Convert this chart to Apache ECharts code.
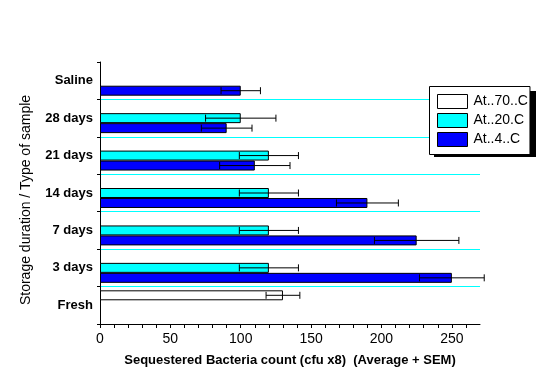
<!DOCTYPE html>
<html>
<head>
<meta charset="utf-8">
<script src="https://cdn.jsdelivr.net/npm/echarts@6/dist/echarts.min.js"></script>
<style>
  html, body { margin: 0; padding: 0; background: #fff; }
  #chart { width: 542px; height: 377px; }
</style>
</head>
<body>
<div id="chart"></div>
<script>
// categories from bottom to top
var categories = ["Fresh", "3 days", "7 days", "14 days", "21 days", "28 days", "Saline"];
var seriesNames = ["At..70..C", "At..20.C", "At..4..C"];

// averages
var at70 = [130, null, null, null, null, null, null];
var at20 = [null, 120, 120, 120, 120, 100, null];
var at4 = [null, 250, 225, 190, 110, 90, 100];

// SEM
var sem70 = [12, null, null, null, null, null, null];
var sem20 = [null, 21, 21, 21, 21, 25, null];
var sem4 = [null, 23, 30, 22, 25, 18, 14];

var colors = ["#FFFFFF", "#00FFFF", "#0000FF"];
var font = "Liberation Sans, Arial, sans-serif";

var chart = echarts.init(document.getElementById("chart"));

// slot 0 = top bar in the group
function errorSeries(values, sems, slot) {
  var data = [];
  values.forEach(function (v, i) {
    if (v != null) data.push([v, i, sems[i]]);
  });
  return {
    type: "custom",
    name: "err" + slot,
    silent: true,
    z: 5,
    encode: { x: 0, y: 1 },
    data: data,
    renderItem: function (params, api) {
      var v = api.value(0), c = api.value(1), e = api.value(2);
      var band = api.size([0, 1])[1];
      var bw = (band * 0.8) / 3;
      var y = api.coord([v, c])[1] + (slot - 1) * bw;
      var x1 = api.coord([v - e, c])[0];
      var x2 = api.coord([v + e, c])[0];
      var st = { stroke: "#000", lineWidth: 1 };
      return {
        type: "group",
        children: [
          { type: "line", shape: { x1: x1, y1: y, x2: x2, y2: y }, style: st },
          { type: "line", shape: { x1: x1, y1: y - 3.5, x2: x1, y2: y + 3.5 }, style: st },
          { type: "line", shape: { x1: x2, y1: y - 3.5, x2: x2, y2: y + 3.5 }, style: st }
        ]
      };
    }
  };
}

function barSeries(name, values, color) {
  return {
    type: "bar",
    name: name,
    data: values,
    barGap: "0%",
    barCategoryGap: "20%",
    itemStyle: { color: color, borderColor: "#000", borderWidth: 1 }
  };
}

var option = {
  animation: false,
  grid: { left: 100, right: 62, top: 62, bottom: 53 },
  // drop shadow behind the legend box
  graphic: [
    { type: "rect", z: 3, silent: true, shape: { x: 434, y: 91, width: 102, height: 66 }, style: { fill: "#000" } }
  ],
  legend: {
    orient: "vertical",
    left: 429.5,
    top: 86.5,
    data: seriesNames,
    icon: "rect",
    itemWidth: 30,
    itemHeight: 14,
    itemGap: 4,
    padding: [7.5, 2, 7.5, 7.5],
    backgroundColor: "#fff",
    borderColor: "#000",
    borderWidth: 1,
    selectedMode: false,
    itemStyle: { borderWidth: 1, borderColor: "#000" },
    textStyle: { fontFamily: font, fontSize: 14, color: "#000", padding: [0, 0, 0, 1] }
  },
  xAxis: {
    type: "value",
    min: 0,
    max: 270,
    interval: 10,
    name: "Sequestered Bacteria count (cfu x8)  (Average + SEM)",
    nameLocation: "middle",
    nameGap: 30,
    nameTextStyle: { fontFamily: font, fontSize: 13, fontWeight: "bold", color: "#000" },
    axisLine: { show: true, lineStyle: { color: "#000", width: 1 } },
    axisTick: { show: true, length: 4, lineStyle: { color: "#000" } },
    axisLabel: {
      fontFamily: font,
      fontSize: 14,
      color: "#000",
      margin: 8,
      showMaxLabel: false,
      formatter: function (v) { return v % 50 === 0 ? String(v) : ""; }
    },
    splitLine: { show: false }
  },
  yAxis: {
    type: "category",
    data: categories,
    name: "Storage duration / Type of sample",
    nameLocation: "middle",
    nameGap: 67,
    nameTextStyle: { fontFamily: font, fontSize: 14, color: "#000", padding: [0, 14, 0, 0] },
    axisLine: { show: true, lineStyle: { color: "#000", width: 1 } },
    axisTick: { show: true, length: 3, lineStyle: { color: "#000" } },
    axisLabel: { fontFamily: font, fontSize: 13, fontWeight: "bold", color: "#000", margin: 7 },
    splitLine: { show: true, showMaxLine: false, lineStyle: { color: "#00FFFF", width: 1 } }
  },
  series: [
    barSeries(seriesNames[0], at70, colors[0]),
    barSeries(seriesNames[1], at20, colors[1]),
    barSeries(seriesNames[2], at4, colors[2]),
    errorSeries(at70, sem70, 0),
    errorSeries(at20, sem20, 1),
    errorSeries(at4, sem4, 2)
  ]
};

chart.setOption(option);
</script>
</body>
</html>
